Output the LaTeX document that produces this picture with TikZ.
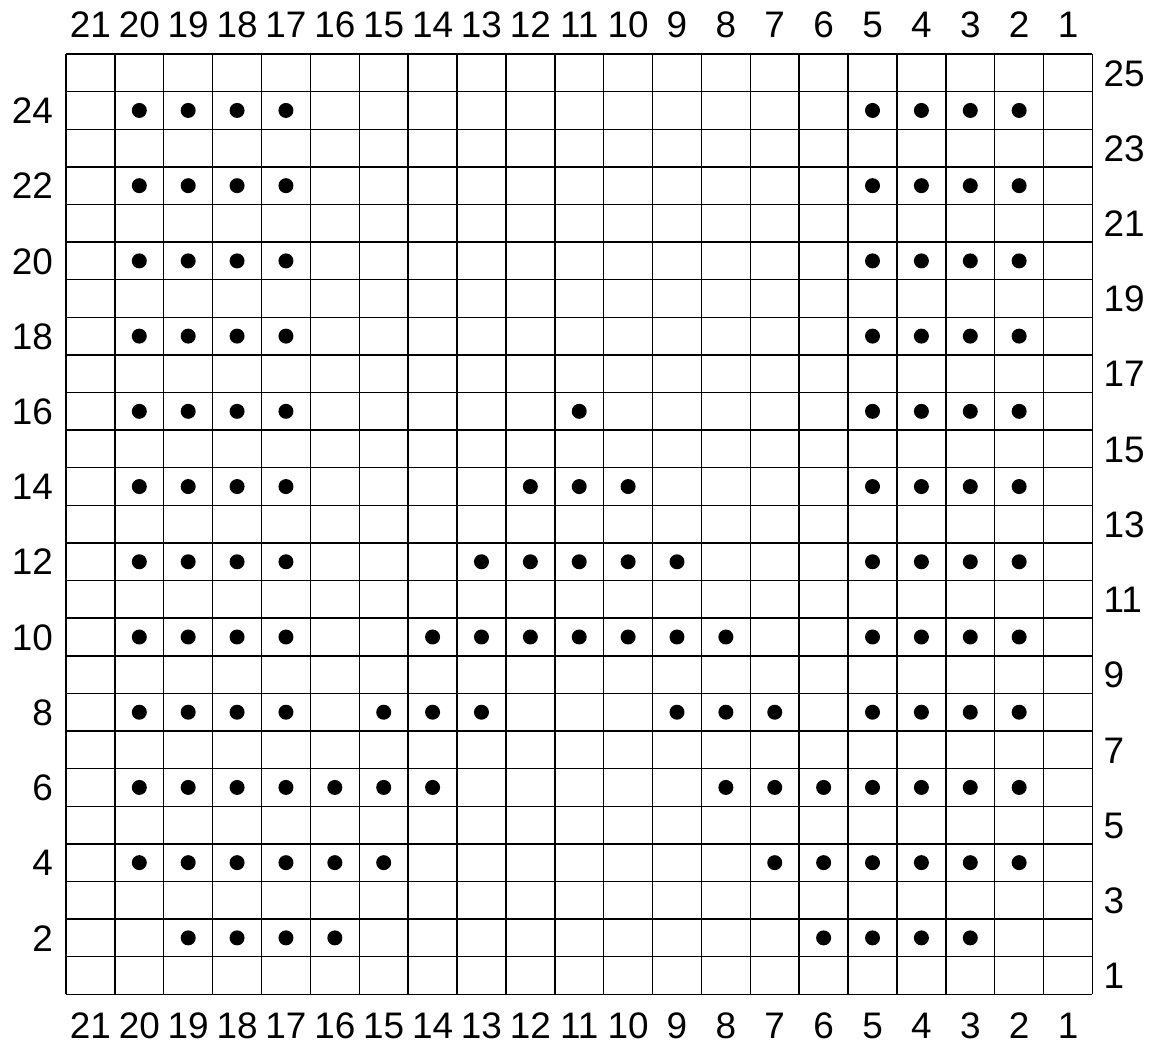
\documentclass[tikz,border=0pt]{standalone}
\usepackage{fontspec}
\setmainfont{Liberation Sans}
\usetikzlibrary{positioning}

\begin{document}
\begin{tikzpicture}[
  x=0.9776cm, y=0.7522cm,
  font=\fontsize{21}{25}\selectfont,
  cell/.style={draw,line width=0.8pt},
  num/.style={inner sep=0pt,anchor=center,text height=15pt,text depth=0pt},
  stitch/.style={fill=black},
]
\useasboundingbox (-1.350,-1.321) rectangle (22.218,26.437);
% chart grid
\foreach \i in {0,...,21}
  \draw[cell] (\i,0) -- (\i,25);
\foreach \j in {0,...,25}
  \draw[cell] (0,\j) -- (21,\j);
% column numbers, 21 at the left
\foreach \c in {1,...,21} {
  \node[num] (top\c) at ({21.5-\c},25.8)  {\c};
  \node[num] (bot\c) at ({21.5-\c},-0.816) {\c};
}
% row numbers: even on the left, odd on the right
\foreach \r in {2,4,...,24}
  \node[num,anchor=east] (left\r) at (-0.26,{\r-0.5}) {\r};
\foreach \r in {1,3,...,25}
  \node[num,anchor=west] (right\r) at (21.22,{\r-0.5}) {\r};
% dots, given as row/column
\foreach \r/\cols in {
  24/{20,19,18,17,5,4,3,2},
  22/{20,19,18,17,5,4,3,2},
  20/{20,19,18,17,5,4,3,2},
  18/{20,19,18,17,5,4,3,2},
  16/{20,19,18,17,11,5,4,3,2},
  14/{20,19,18,17,12,11,10,5,4,3,2},
  12/{20,19,18,17,13,12,11,10,9,5,4,3,2},
  10/{20,19,18,17,14,13,12,11,10,9,8,5,4,3,2},
  8/{20,19,18,17,15,14,13,9,8,7,5,4,3,2},
  6/{20,19,18,17,16,15,14,8,7,6,5,4,3,2},
  4/{20,19,18,17,16,15,7,6,5,4,3,2},
  2/{19,18,17,16,6,5,4,3}}
  \foreach \c in \cols
    \fill[stitch] ({21.5-\c},{\r-0.5}) circle[radius=0.15cm];
\end{tikzpicture}
\end{document}
